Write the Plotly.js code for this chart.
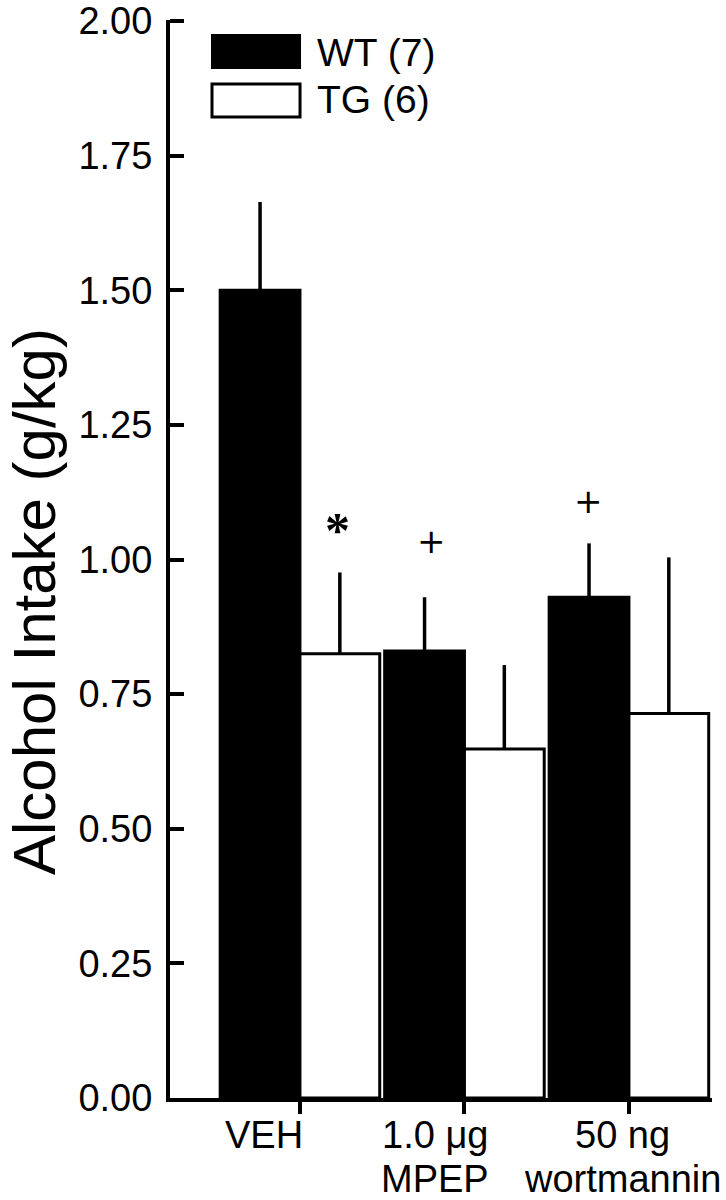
<!DOCTYPE html>
<html>
<head>
<meta charset="utf-8">
<script src="https://cdn.plot.ly/plotly-3.0.1.min.js"></script>
<style>
  body { margin: 0; background: #fff; }
  #chart { width: 726px; height: 1200px; }
</style>
</head>
<body>
<div id="chart"></div>
<script>
// data
const categories = ['VEH', 'MPEP', 'wortmannin'];
const catLine1 = ['VEH', '1.0 \u03bcg', '50 ng'];
const catLine2 = ['', 'MPEP', 'wortmannin'];
const seriesNames = ['WT (7)', 'TG (6)'];
const wtMean = [1.50, 0.83, 0.93];
const wtErr = [0.164, 0.10, 0.10];
const tgMean = [0.825, 0.648, 0.714];
const tgErr = [0.151, 0.156, 0.29];
const yTicks = [0, 0.25, 0.5, 0.75, 1.0, 1.25, 1.5, 1.75, 2.0];

const FONT = 'Liberation Sans, Arial, Helvetica, sans-serif';

function createIntakeChart() {
    const elementId = 'chart';
    const element = document.getElementById(elementId);
    if (!element) return;

    const data = [
        {
            x: categories,
            y: wtMean,
            type: 'bar',
            name: seriesNames[0],
            marker: { color: '#000', line: { color: '#000', width: 3 } },
            error_y: {
                type: 'data', symmetric: false,
                array: wtErr, arrayminus: wtErr.map(() => 0),
                width: 0, thickness: 3.5, color: '#000'
            }
        },
        {
            x: categories,
            y: tgMean,
            type: 'bar',
            name: seriesNames[1],
            marker: { color: '#fff', line: { color: '#000', width: 3 } },
            error_y: {
                type: 'data', symmetric: false,
                array: tgErr, arrayminus: tgErr.map(() => 0),
                width: 0, thickness: 3.5, color: '#000'
            }
        }
    ];

    // category labels sit a bit left of their ticks in the original
    const labelShift = [-36, -29, -6];
    const annotations = [];
    catLine1.forEach((t, i) => {
        annotations.push({
            x: i, xref: 'x', y: 0, yref: 'paper',
            text: t, showarrow: false, xanchor: 'center', yanchor: 'top',
            xshift: labelShift[i], yshift: -14,
            font: { family: FONT, size: 38, color: '#000' }
        });
        if (catLine2[i]) annotations.push({
            x: i, xref: 'x', y: 0, yref: 'paper',
            text: catLine2[i], showarrow: false, xanchor: 'center', yanchor: 'top',
            xshift: labelShift[i], yshift: -58,
            font: { family: FONT, size: 38, color: '#000' }
        });
    });

    // significance marks
    annotations.push({
        x: 0, xref: 'x', y: tgMean[0] + tgErr[0], yref: 'y',
        text: '<b>*</b>', showarrow: false, xshift: 38, yshift: 42,
        yanchor: 'middle',
        font: { family: 'Liberation Serif, Times New Roman, serif', size: 50, color: '#000' }
    });
    annotations.push({
        x: 1, xref: 'x', y: wtMean[1] + wtErr[1], yref: 'y',
        text: '+', showarrow: false, xshift: -33, yshift: 56, yanchor: 'middle',
        font: { family: 'DejaVu Sans, sans-serif', size: 34, color: '#000' }
    });
    annotations.push({
        x: 2, xref: 'x', y: wtMean[2] + wtErr[2], yref: 'y',
        text: '+', showarrow: false, xshift: -40, yshift: 42, yanchor: 'middle',
        font: { family: 'DejaVu Sans, sans-serif', size: 34, color: '#000' }
    });

    // y title
    annotations.push({
        x: 0, xref: 'paper', y: 0.5, yref: 'paper',
        text: 'Alcohol Intake (g/kg)', showarrow: false, textangle: -90,
        xanchor: 'center', yanchor: 'middle', xshift: -136, yshift: -43,
        font: { family: FONT, size: 60, color: '#000' }
    });

    // legend text
    const legY = [0.9703, 0.9258];
    seriesNames.forEach((n, i) => annotations.push({
        x: 0.2675, xref: 'paper', y: legY[i], yref: 'paper',
        text: n, showarrow: false, xanchor: 'left', yanchor: 'middle',
        font: { family: FONT, size: 39, color: '#000' }
    }));

    const shapes = [
        { type: 'rect', xref: 'paper', yref: 'paper', x0: 0.0775, x1: 0.2399, y0: 0.9555, y1: 0.9861,
          fillcolor: '#000', line: { color: '#000', width: 2 } },
        { type: 'rect', xref: 'paper', yref: 'paper', x0: 0.0775, x1: 0.2399, y0: 0.9100, y1: 0.9406,
          fillcolor: '#fff', line: { color: '#000', width: 3 } }
    ];

    const layout = {
        width: 726,
        height: 1200,
        margin: { l: 170, r: 14, t: 20, b: 102 },
        paper_bgcolor: '#fff',
        plot_bgcolor: '#fff',
        barmode: 'group',
        bargap: 0.03,
        bargroupgap: 0,
        showlegend: false,
        font: { family: FONT, color: '#000' },
        xaxis: {
            type: 'category',
            range: [-0.79, 2.505],
            showline: true, linecolor: '#000', linewidth: 4,
            ticks: 'outside', ticklen: 12, tickwidth: 4, tickcolor: '#000',
            showticklabels: false, showgrid: false, zeroline: false
        },
        yaxis: {
            range: [0, 2.002],
            tickvals: yTicks,
            tickformat: '.2f',
            showline: true, linecolor: '#000', linewidth: 4,
            ticks: 'inside', ticklen: 14, tickwidth: 4, tickcolor: '#000',
            ticklabelstandoff: 6,
            tickfont: { family: FONT, size: 38, color: '#000' },
            showgrid: false, zeroline: false
        },
        annotations: annotations,
        shapes: shapes
    };

    Plotly.newPlot(elementId, data, layout, { displayModeBar: false, staticPlot: true });
}

document.addEventListener('DOMContentLoaded', createIntakeChart);
</script>
</body>
</html>
